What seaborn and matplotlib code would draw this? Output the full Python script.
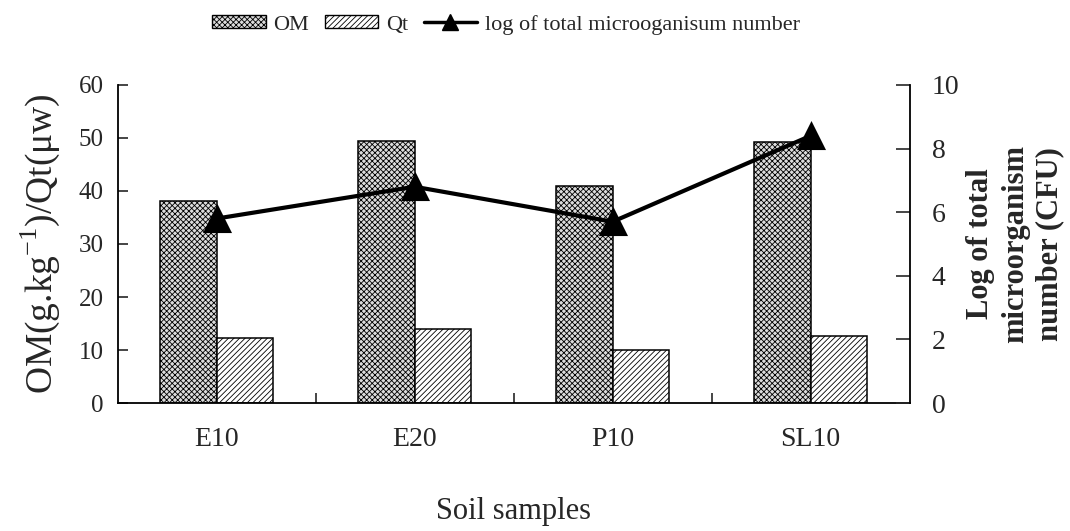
import matplotlib
matplotlib.use("Agg")
import matplotlib.pyplot as plt
import seaborn as sns
import pandas as pd
from matplotlib.lines import Line2D
from matplotlib.patches import Patch

# ---- data ----
samples = ["E10", "E20", "P10", "SL10"]
om_values = [38.1, 49.5, 41.0, 49.2]
qt_values = [12.3, 14.0, 10.0, 12.6]
log_micro = [5.8, 6.8, 5.7, 8.4]
series_names = ["OM", "Qt"]
line_name = "log of total microoganisum number"

sns.set_theme(style="white")
plt.rcParams["font.family"] = ["Liberation Serif", "DejaVu Serif"]
plt.rcParams["mathtext.fontset"] = "custom"
plt.rcParams["mathtext.rm"] = "Liberation Serif"
plt.rcParams["hatch.linewidth"] = 0.6
plt.rcParams["hatch.color"] = "#7a7a7a"

df = pd.DataFrame({
    "sample": samples * 2,
    "value": om_values + qt_values,
    "series": [series_names[0]] * 4 + [series_names[1]] * 4,
})
df_line = pd.DataFrame({"sample": samples, "log": log_micro})

fig = plt.figure(figsize=(10.7, 5.31), dpi=100)
ax = fig.add_axes([0.110, 0.241, 0.740, 0.599])

face = {"OM": "#dcdcdc", "Qt": "white"}
hatch = {"OM": "xxxxxx", "Qt": "//////"}

sns.barplot(data=df, x="sample", y="value", hue="series", order=samples,
            hue_order=series_names, width=0.57, ax=ax,
            palette=[face["OM"], face["Qt"]], edgecolor="black", linewidth=1.1,
            legend=False)

for container, name in zip(ax.containers, series_names):
    for bar in container:
        bar.set_facecolor(face[name])
        bar.set_hatch(hatch[name])
        bar.set_edgecolor("black")

ax.set_ylim(0, 60)
ax.set_yticks(range(0, 61, 10))
ax.set_xlim(-0.5, 3.5)
ax.set_xticks(range(len(samples)))
ax.set_xticklabels(samples)
ax.tick_params(axis="x", length=0, labelsize=20, pad=17)
ax.tick_params(axis="y", direction="in", length=7, width=1.2, labelsize=18, left=True, pad=10)
ax.set_xticks([0.5, 1.5, 2.5], minor=True)
ax.tick_params(axis="x", which="minor", direction="in", length=7, width=1.2, bottom=True)
ax.set_xlabel("Soil samples", fontsize=22, labelpad=33)
ax.set_ylabel("OM(g.kg$^{-1}$)/Qt(μw)", fontsize=27, labelpad=12)
for s in ["left", "bottom"]:
    ax.spines[s].set_color("black")
    ax.spines[s].set_linewidth(1.3)
ax.spines["top"].set_visible(False)
ax.spines["right"].set_visible(False)

ax2 = ax.twinx()
sns.pointplot(data=df_line, x="sample", y="log", order=samples, ax=ax2,
              color="black", markers="^", linestyles="-", markersize=17,
              linewidth=3)
ax2.set_xlim(-0.5, 3.5)
ax2.set_ylim(0, 10)
ax2.set_yticks(range(0, 11, 2))
ax2.tick_params(axis="y", direction="in", length=10, width=1.2, labelsize=20, right=True, pad=16)
ax2.set_ylabel("Log of total\nmicroorganism\nnumber (CFU)", fontsize=22,
               fontweight="bold", rotation=90, labelpad=5, linespacing=1.25)
ax2.yaxis.set_label_position("right")
for s in ["left", "bottom", "top"]:
    ax2.spines[s].set_visible(False)
ax2.spines["right"].set_color("black")
ax2.spines["right"].set_linewidth(1.3)

handles = [
    Patch(facecolor=face["OM"], edgecolor="black", hatch=hatch["OM"], label="OM"),
    Patch(facecolor=face["Qt"], edgecolor="black", hatch=hatch["Qt"], label="Qt"),
    Line2D([0], [0], color="black", lw=2.5, marker="^", markersize=12, label=line_name),
]
fig.legend(handles=handles, loc="upper center", bbox_to_anchor=(0.473, 1.01),
           ncol=3, frameon=False, fontsize=16, handlelength=2.4, handleheight=0.55,
           columnspacing=0.7, handletextpad=0.35)

fig.savefig("out.png", dpi=100)
